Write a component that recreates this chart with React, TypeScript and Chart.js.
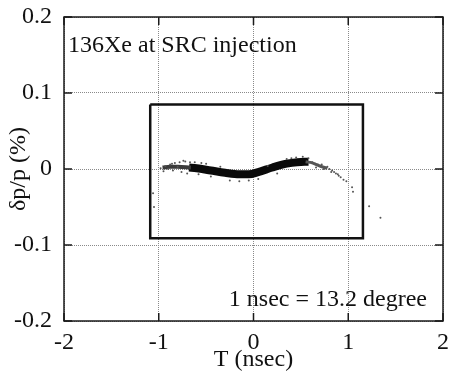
import React, { useEffect, useRef } from "react";
import { Chart, registerables } from "chart.js";
Chart.register(...registerables);

const xTicks = [-2, -1, 0, 1, 2];
const xTickLabels = ["-2", "-1", "0", "1", "2"];
const yTicks = [-0.2, -0.1, 0, 0.1, 0.2];
const yTickLabels = ["-0.2", "-0.1", "0", "0.1", "0.2"];

const xTitle = "T (nsec)";
const yTitle = "δp/p (%)";
const topNote = "136Xe at SRC injection";
const bottomNote = "1 nsec = 13.2 degree";

// dense core of the beam band
const coreT = [-0.68, -0.6, -0.45, -0.3, -0.15, -0.05, 0.05, 0.2, 0.35, 0.46, 0.58];
const coreDp = [0.002, 0.001, -0.002, -0.005, -0.007, -0.007, -0.004, 0.002, 0.007, 0.009, 0.0095];

// sparser ends of the band
const leftT = [-0.96, -0.88, -0.8, -0.66];
const leftDp = [0.002, 0.003, 0.003, 0.002];
const rightT = [0.55, 0.62, 0.7, 0.78];
const rightDp = [0.0095, 0.008, 0.004, 0.001];

// scattered particles around the band and the falling tail
const fuzzT = [
  -0.98, -0.95, -0.93, -0.9, -0.88, -0.85, -0.83, -0.8, -0.78, -0.76, -0.72, -0.7, -0.67, -0.62, -0.58,
  -0.5, -0.45, -0.35, -0.25, -0.15, -0.05, 0.05, 0.15, 0.25, 0.35, 0.45, 0.52, 0.58,
  0.62, 0.65, 0.68, 0.7, 0.72, 0.75, 0.78, 0.8, 0.83, 0.85, 0.87, 0.9, 0.92, 0.95, 0.98, 1.04, 1.05,
  -1.06, -1.05, 1.22, 1.34, -0.86, -0.74, -0.55, 0.4, 0.66, 0.74, 0.82, 0.89,
];
const fuzzDp = [
  0.001, -0.003, 0.004, 0.0, 0.006, -0.002, 0.008, 0.003, 0.009, -0.004, 0.01, -0.006, 0.009, 0.009, -0.007,
  0.007, -0.01, 0.003, -0.015, -0.016, -0.015, -0.013, 0.004, -0.006, 0.013, 0.015, 0.016, 0.014,
  0.009, 0.007, 0.006, 0.004, 0.006, 0.002, 0.003, 0.0, -0.002, -0.004, -0.006, -0.009, -0.011, -0.014, -0.016, -0.024, -0.03,
  -0.032, -0.05, -0.049, -0.064, 0.007, 0.011, 0.008, 0.014, 0.002, 0.0, -0.004, -0.007,
];

// acceptance window
const boxT = [-1.09, 1.155, 1.155, -1.09, -1.09];
const boxDp = [0.085, 0.085, -0.091, -0.091, 0.085];

const FONT = "'Liberation Serif', 'Times New Roman', Times, serif";

const pts = (xs: number[], ys: number[]) => xs.map((x, i) => ({ x, y: ys[i] }));

export default function App() {
  const ref = useRef<HTMLCanvasElement | null>(null);

  useEffect(() => {
    const canvas = ref.current;
    if (!canvas) return;

    const framePlugin = {
      id: "framePlugin",
      afterDraw(chart: any) {
        const { ctx, chartArea: a, scales } = chart;
        const xs = scales.x;
        const ys = scales.y;
        ctx.save();
        ctx.strokeStyle = "#1a1a1a";
        ctx.lineWidth = 1.5;
        ctx.strokeRect(a.left, a.top, a.right - a.left, a.bottom - a.top);
        const tl = 8;
        ctx.beginPath();
        xTicks.forEach((v) => {
          const px = xs.getPixelForValue(v);
          ctx.moveTo(px, a.bottom);
          ctx.lineTo(px, a.bottom - tl);
          ctx.moveTo(px, a.top);
          ctx.lineTo(px, a.top + tl);
        });
        yTicks.forEach((v) => {
          const py = ys.getPixelForValue(v);
          ctx.moveTo(a.left, py);
          ctx.lineTo(a.left + tl, py);
          ctx.moveTo(a.right, py);
          ctx.lineTo(a.right - tl, py);
        });
        ctx.stroke();

        ctx.fillStyle = "#111";
        ctx.font = `24px ${FONT}`;
        ctx.textBaseline = "alphabetic";
        ctx.textAlign = "left";
        ctx.fillText(topNote, a.left + 4, a.top + 35);
        ctx.textAlign = "right";
        ctx.fillText(bottomNote, a.right - 16, a.bottom - 15);

        ctx.textAlign = "center";
        ctx.fillText(xTitle, (a.left + a.right) / 2, 366);

        ctx.translate(25, (a.top + a.bottom) / 2);
        ctx.rotate(-Math.PI / 2);
        ctx.textAlign = "center";
        ctx.fillText(yTitle, 0, 0);
        ctx.restore();
      },
    };

    const chart = new Chart(canvas, {
      type: "scatter",
      data: {
        datasets: [
          {
            data: pts(fuzzT, fuzzDp),
            showLine: false,
            pointRadius: 1,
            pointBackgroundColor: "#555",
            pointBorderWidth: 0,
          },
          {
            data: pts(leftT, leftDp),
            showLine: true,
            borderColor: "#3a3a3a",
            borderWidth: 4,
            borderCapStyle: "butt",
            tension: 0.4,
            pointRadius: 0,
          },
          {
            data: pts(rightT, rightDp),
            showLine: true,
            borderColor: "#555",
            borderWidth: 3,
            borderCapStyle: "butt",
            tension: 0.4,
            pointRadius: 0,
          },
          {
            data: pts(coreT, coreDp),
            showLine: true,
            borderColor: "#0a0a0a",
            borderWidth: 8,
            borderCapStyle: "butt",
            borderJoinStyle: "round",
            cubicInterpolationMode: "monotone",
            pointRadius: 0,
          },
          {
            data: pts(boxT, boxDp),
            showLine: true,
            borderColor: "#111",
            borderWidth: 2.5,
            borderJoinStyle: "miter",
            tension: 0,
            pointRadius: 0,
          },
        ] as any,
      },
      options: {
        animation: false,
        responsive: false,
        maintainAspectRatio: false,
        layout: { padding: { top: 17, right: 7, left: 0, bottom: 0 } },
        plugins: { legend: { display: false }, tooltip: { enabled: false } },
        scales: {
          x: {
            type: "linear",
            min: -2,
            max: 2,
            afterBuildTicks: (s: any) => {
              s.ticks = xTicks.map((v) => ({ value: v }));
            },
            afterFit: (s: any) => {
              s.height = 54;
              s.paddingLeft = 0;
              s.paddingRight = 0;
            },
            ticks: {
              color: "#111",
              font: { family: FONT, size: 24 },
              padding: 7,
              maxRotation: 0,
              callback: (v: any) => {
                const i = xTicks.findIndex((t) => Math.abs(t - v) < 1e-9);
                return i >= 0 ? xTickLabels[i] : "";
              },
            },
            grid: { color: "#8a8a8a", lineWidth: 1, drawTicks: false },
            border: { display: false, dash: [1, 1] },
          },
          y: {
            type: "linear",
            min: -0.2,
            max: 0.2,
            afterBuildTicks: (s: any) => {
              s.ticks = yTicks.map((v) => ({ value: v }));
            },
            afterFit: (s: any) => {
              s.width = 64;
              s.paddingTop = 0;
              s.paddingBottom = 0;
            },
            ticks: {
              color: "#111",
              font: { family: FONT, size: 24 },
              padding: 12,
              callback: (v: any) => {
                const i = yTicks.findIndex((t) => Math.abs(t - v) < 1e-9);
                return i >= 0 ? yTickLabels[i] : "";
              },
            },
            grid: { color: "#8a8a8a", lineWidth: 1, drawTicks: false },
            border: { display: false, dash: [1, 1] },
          },
        },
      },
      plugins: [framePlugin],
    } as any);

    return () => chart.destroy();
  }, []);

  return (
    <div style={{ position: "fixed", left: 0, top: 0, width: 450, height: 375, background: "#fff" }}>
      <canvas ref={ref} width={450} height={375} style={{ width: 450, height: 375, display: "block" }} />
    </div>
  );
}
